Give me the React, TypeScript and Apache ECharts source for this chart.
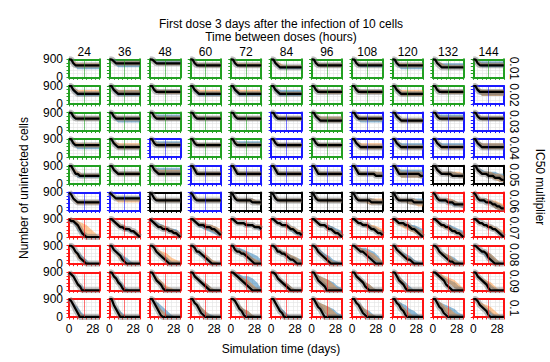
import React, { useEffect, useRef } from "react";
import * as echarts from "echarts";

// ---------- labels ----------
const COL_LABELS = ["24", "36", "48", "60", "72", "84", "96", "108", "120", "132", "144"];
const ROW_LABELS = ["0.01", "0.02", "0.03", "0.04", "0.05", "0.06", "0.07", "0.08", "0.09", "0.1"];
const TITLE_1 = "First dose 3 days after the infection of 10 cells";
const TITLE_2 = "Time between doses (hours)";
const X_TITLE = "Simulation time (days)";
const Y_TITLE = "Number of uninfected cells";
const R_TITLE = "IC50 multiplier";

// ---------- sampling times (days) ----------
const T_LINE = [0, 2, 4, 6, 8, 10, 12, 14, 16, 18, 20, 22, 24, 26, 28];
const T_BAND = [0, 4, 8, 12, 16, 20, 24, 28];

// panel frame colour per cell: G green, B blue, K black, R red
const FRAME = [
  "GGGGGGGGGGG",
  "GGGGGGGGGGB",
  "GGGGGBGBBBB",
  "GGBGGBGBBBB",
  "GGGBBBBBBKK",
  "BBKBKKKKKRR",
  "RRRRRRRRRRR",
  "RRRRRRRRRRR",
  "RRRRRRRRRRR",
  "RRRRRRRRRRR",
];

// mean number of uninfected cells (hundreds) at T_LINE
const LINE = [
  ["997666666666666", "998777777777777", "998777777777777", "997666666666666", "997666666666666", "997655555555555", "997666666666666", "997666666666666", "997666666666666", "997655555555555", "997666666666666"],
  ["997655555555555", "997655555555555", "997666666666666", "997655555555555", "997655555555555", "997655555555555", "997666666666666", "997666666666666", "997655555555555", "997666666666666", "997666666666666"],
  ["997666666666666", "997666666666666", "997666666666666", "997666666666666", "997666666666666", "997666666666666", "997655555555555", "997666666666666", "997655555555555", "997666666666666", "997666666666666"],
  ["997666666666666", "997655555555555", "997666666666666", "997666666666666", "997666666666666", "997666666666666", "997666666666666", "997655555555555", "997655555555555", "997655555555555", "997655555555555"],
  ["997554444444444", "997655555555555", "997655555555555", "997555555555555", "997555555555555", "997555555555555", "997555555555555", "997555555554444", "997555555555544", "997655555444444", "997655544433322"],
  ["986544444444444", "987666666666666", "986555555555555", "986555555555555", "986555555544444", "986555555555555", "986555555555555", "986555555444444", "986555555544444", "986555544433333", "986555444332211"],
  ["988764210000000", "998765544433210", "987655444332210", "998766655544321", "998777766665554", "998776665443221", "998766654432210", "998776665443221", "998777665443210", "998766554332210", "998776655443210"],
  ["998653210000000", "997654210000000", "998654321000000", "998665432100000", "997665543210000", "998665543221000", "998654321000000", "998766543210000", "997654322100000", "998654321100000", "998766532100000"],
  ["987532000000000", "997643100000000", "997543100000000", "997654321000000", "998765432100000", "998654321000000", "997543200000000", "997654210000000", "997543100000000", "998765321000000", "997654310000000"],
  ["986420000000000", "996420000000000", "997531000000000", "997642100000000", "998643100000000", "997532000000000", "997542000000000", "997642100000000", "997643100000000", "997542100000000", "998654310000000"],
];

// orange band (hundreds) at T_BAND
const ORANGE_HI = [
  ["98777777", "98888888", "98777777", "98777777", "98777777", "98766666", "98777777", "98777777", "98777777", "98766666", "98777777"],
  ["98777777", "98777777", "98777777", "98777777", "98777777", "98666666", "98777777", "98777777", "98777777", "98777777", "98777777"],
  ["98777777", "98777777", "98777777", "98777777", "98777777", "98777777", "98777777", "98777777", "98666666", "98777777", "98777777"],
  ["98777777", "98777777", "98777777", "98777777", "98777777", "98777777", "98777777", "98777777", "98666666", "98666666", "98777777"],
  ["98655555", "98666666", "98777777", "98666666", "98666666", "98666666", "98666666", "98666666", "98666666", "98666665", "98666554"],
  ["96555555", "97666666", "97666666", "97666666", "97666655", "97666666", "97666666", "97666666", "97666655", "97666544", "97665543"],
  ["99876420", "98765432", "98665432", "98776654", "98777666", "98766543", "98765432", "98776654", "98776543", "98765432", "98766543"],
  ["98531000", "97420000", "98765321", "98654210", "98765321", "98765431", "98643100", "98876531", "98643100", "98654210", "98765310"],
  ["97410000", "98520000", "98642100", "98643100", "98765310", "98643100", "98765310", "98643100", "98631000", "98876531", "98654200"],
  ["97310000", "97310000", "98531000", "98642000", "98643100", "97420000", "98765310", "98642100", "98642000", "98754210", "98765310"],
];
const ORANGE_LO = [
  ["97555555", "97666666", "97666666", "97555555", "97555555", "97555555", "97555555", "97666666", "97555555", "97555555", "97666666"],
  ["97555555", "97555555", "97555555", "97555555", "97555555", "97555555", "97555555", "97555555", "97444444", "97555555", "97444444"],
  ["97555555", "97555555", "97555555", "97555555", "97555555", "97555555", "97444444", "97555555", "97444444", "97555555", "97555555"],
  ["97555555", "97444444", "97555555", "97555555", "97555555", "97555555", "97555555", "97444444", "97444444", "97444444", "97444444"],
  ["96444444", "97444444", "97444444", "96444444", "96444444", "97444444", "97444444", "96444444", "96333333", "96544433", "96543211"],
  ["95333333", "96444444", "96444444", "96444444", "96444433", "96444444", "96444444", "96443333", "96443322", "96544322", "96543100"],
  ["98420000", "97544310", "97543210", "97654320", "97666554", "97654321", "97654210", "97654321", "97543210", "97543210", "97654321"],
  ["97310000", "97310000", "97531000", "97542000", "97643100", "97643210", "97420000", "97654210", "97421000", "97431000", "97642000"],
  ["96200000", "97310000", "97310000", "97521000", "97643100", "97421000", "97420000", "97420000", "97310000", "97543100", "97421000"],
  ["96100000", "96100000", "97310000", "97420000", "97421000", "96310000", "97420000", "97420000", "97420000", "97420000", "97532000"],
];

// blue band (hundreds) at T_BAND
const BLUE_HI = [
  ["97666666", "99888888", "98888888", "98777777", "97666666", "98666666", "98777777", "98777777", "98666666", "98777777", "98888888"],
  ["98666666", "98777777", "98777777", "98666666", "98666666", "98777777", "98777777", "98777777", "98666666", "98777777", "98777777"],
  ["98777777", "98777777", "98888888", "98777777", "98777777", "98777777", "98777777", "98777777", "98666666", "98888888", "98777777"],
  ["98666666", "98666666", "98888888", "98777777", "98888888", "98777777", "98777777", "98666666", "98777777", "98777777", "98777777"],
  ["97555555", "98666666", "98888888", "98666666", "98666666", "98666666", "98666666", "98666666", "98777777", "98666655", "98766655"],
  ["96555555", "97777777", "97666666", "97666666", "97666655", "97666666", "97666666", "97666655", "97666666", "97665544", "97665432"],
  ["98531000", "98665321", "98765442", "98776543", "98777665", "98765432", "98766543", "98776543", "98776654", "98766543", "98765432"],
  ["98642000", "98643100", "98643100", "98643100", "98876542", "98765432", "98754210", "98887641", "98654210", "98654310", "98765310"],
  ["97420000", "98631000", "98531000", "98643100", "98877641", "98643100", "98765421", "98643100", "98642000", "98765421", "98643100"],
  ["97520000", "97420000", "98753100", "98642100", "98643100", "97531000", "98765421", "98643100", "98764310", "98765421", "98643100"],
];
const BLUE_LO = [
  ["96444444", "97555555", "97666666", "97555555", "96555555", "96444444", "97555555", "97555555", "96444444", "97555555", "97555555"],
  ["96444444", "96444444", "97555555", "96444444", "96444444", "96444444", "97555555", "97555555", "96444444", "97555555", "96444444"],
  ["96555555", "96444444", "97555555", "97555555", "97555555", "96555555", "96444444", "96444444", "96444444", "97555555", "97555555"],
  ["96444444", "96444444", "97555555", "97555555", "97555555", "97555555", "97555555", "96444444", "96444444", "97555555", "96444444"],
  ["96333333", "97444444", "97444444", "96444444", "96444444", "96444444", "97444444", "96444444", "96333333", "96544433", "96543322"],
  ["95444444", "96555555", "96444444", "96444444", "96444433", "96444444", "96444444", "96444433", "96443333", "96443221", "96443100"],
  ["97310000", "97543210", "97543210", "97543210", "97665543", "97654210", "97654321", "97654321", "97654320", "97654321", "97654310"],
  ["97410000", "97421000", "97421000", "97431000", "97643100", "97543100", "97531000", "97654100", "97531000", "97431000", "97531000"],
  ["96200000", "97310000", "97310000", "97420000", "97643100", "97421000", "97420000", "97420000", "97310000", "97643100", "97421000"],
  ["96200000", "96200000", "97420000", "97420000", "97420000", "96310000", "97420000", "97420000", "97420000", "97420000", "97531000"],
];

const FRAME_COLORS: Record<string, string> = {
  G: "#22a022",
  B: "#1a1aff",
  K: "#000000",
  R: "#ff1414",
};

const FONT = "'Liberation Sans', Arial, Helvetica, sans-serif";
const FS = 12;

const decode = (s: string) => s.split("").map((ch) => Number(ch) * 100);

function buildOption() {
  const PX0 = 69;
  const PY0 = 59.3;
  const DX = 40.43;
  const DY = 26.63;
  const PW = 30.5;
  const PH = 18;

  const grid: any[] = [];
  const xAxis: any[] = [];
  const yAxis: any[] = [];
  const series: any[] = [];
  const graphic: any[] = [];

  for (let r = 0; r < ROW_LABELS.length; r++) {
    for (let c = 0; c < COL_LABELS.length; c++) {
      const i = r * COL_LABELS.length + c;
      const col = FRAME_COLORS[FRAME[r][c]];
      grid.push({
        left: PX0 + c * DX,
        top: PY0 + r * DY,
        width: PW,
        height: PH,
        show: false,
        containLabel: false,
      });
      const frameLine = { show: true, onZero: false, lineStyle: { color: col, width: 2 } };
      xAxis.push({
        type: "value",
        gridIndex: i,
        min: 0,
        max: 28,
        interval: 4,
        axisLine: frameLine,
        axisTick: { show: true, length: 2.5, inside: false, lineStyle: { color: col, width: 1 } },
        splitLine: { show: true, showMinLine: false, showMaxLine: false, lineStyle: { color: "#e2e2e2", width: 0.6 } },
        axisLabel: {
          show: r === ROW_LABELS.length - 1,
          formatter: (v: number) => (v === 0 || v === 28 ? String(v) : ""),
          fontSize: FS,
          fontFamily: FONT,
          color: "#000",
          margin: 6,
          showMinLabel: true,
          showMaxLabel: true,
          alignMaxLabel: "right",
        },
      });
      // top edge of the frame
      xAxis.push({
        type: "value",
        gridIndex: i,
        position: "top",
        min: 0,
        max: 28,
        axisLine: frameLine,
        axisTick: { show: false },
        splitLine: { show: false },
        axisLabel: { show: false },
      });
      yAxis.push({
        type: "value",
        gridIndex: i,
        min: 0,
        max: 900,
        interval: 180,
        axisLine: frameLine,
        axisTick: { show: true, length: 2.5, inside: false, lineStyle: { color: col, width: 1 } },
        splitLine: { show: true, showMinLine: false, showMaxLine: false, lineStyle: { color: "#e2e2e2", width: 0.6 } },
        axisLabel: {
          show: c === 0,
          formatter: (v: number) => (v === 0 || v === 900 ? String(v) : ""),
          fontSize: FS,
          fontFamily: FONT,
          color: "#000",
          margin: 6,
          showMinLabel: true,
          showMaxLabel: true,
        },
      });
      // right edge of the frame
      yAxis.push({
        type: "value",
        gridIndex: i,
        position: "right",
        min: 0,
        max: 900,
        axisLine: frameLine,
        axisTick: { show: false },
        splitLine: { show: false },
        axisLabel: { show: false },
      });
      const xi = 2 * i;
      const yi = 2 * i;

      const bands = [
        { lo: decode(BLUE_LO[r][c]), hi: decode(BLUE_HI[r][c]), fill: "rgba(31,119,180,0.5)" },
        { lo: decode(ORANGE_LO[r][c]), hi: decode(ORANGE_HI[r][c]), fill: "rgba(255,127,14,0.42)" },
      ];
      bands.forEach((b) => {
        series.push({
          type: "custom",
          xAxisIndex: xi,
          yAxisIndex: yi,
          silent: true,
          clip: true,
          z: 1,
          data: [[0, 0]],
          renderItem: (_p: any, api: any) => {
            const pts: number[][] = [];
            for (let k = 0; k < T_BAND.length; k++) pts.push(api.coord([T_BAND[k], b.hi[k]]));
            for (let k = T_BAND.length - 1; k >= 0; k--) pts.push(api.coord([T_BAND[k], b.lo[k]]));
            return { type: "polygon", shape: { points: pts }, style: { fill: b.fill } };
          },
        });
      });

      const ys = decode(LINE[r][c]);
      const lineData = T_LINE.map((t, k) => [t, ys[k]]);
      // grey halo (spread of the mean)
      series.push({
        type: "line",
        xAxisIndex: xi,
        yAxisIndex: yi,
        symbol: "none",
        silent: true,
        z: 2,
        data: lineData,
        lineStyle: { color: "rgba(110,110,110,0.45)", width: 6 },
      });
      series.push({
        type: "line",
        xAxisIndex: xi,
        yAxisIndex: yi,
        symbol: "none",
        silent: true,
        z: 3,
        data: lineData,
        lineStyle: { color: "#000", width: 2.2 },
        markLine: {
          silent: true,
          symbol: "none",
          label: { show: false },
          lineStyle: { color: col, width: 1, type: "solid", opacity: 0.6 },
          data: [{ xAxis: 14 }],
        },
      });
    }
    graphic.push({
      type: "text",
      x: 514,
      y: PY0 + r * DY + PH / 2,
      rotation: -Math.PI / 2,
      style: {
        text: ROW_LABELS[r],
        fill: "#000",
        font: `${FS}px ${FONT}`,
        textAlign: "center",
        textVerticalAlign: "middle",
        align: "center",
        verticalAlign: "middle",
      },
    });
  }

  COL_LABELS.forEach((lab, c) => {
    graphic.push({
      type: "text",
      x: PX0 + c * DX + PW / 2,
      y: 51.7,
      style: {
        text: lab,
        fill: "#000",
        font: `${FS}px ${FONT}`,
        textAlign: "center",
        textVerticalAlign: "middle",
        align: "center",
        verticalAlign: "middle",
      },
    });
  });

  const addText = (text: string, x: number, y: number, rot = 0) => {
    graphic.push({
      type: "text",
      x,
      y,
      rotation: rot,
      style: {
        text,
        fill: "#000",
        font: `${FS}px ${FONT}`,
        textAlign: "center",
        textVerticalAlign: "middle",
        align: "center",
        verticalAlign: "middle",
      },
    });
  };
  addText(TITLE_1, 281, 24);
  addText(TITLE_2, 281, 36.7);
  addText(X_TITLE, 281, 349);
  addText(Y_TITLE, 24, 188, Math.PI / 2);
  addText(R_TITLE, 540, 187, -Math.PI / 2);

  return {
    animation: false,
    backgroundColor: "#ffffff",
    grid,
    xAxis,
    yAxis,
    series,
    graphic,
  };
}

export default function App() {
  const ref = useRef<HTMLDivElement>(null);
  useEffect(() => {
    if (!ref.current) return;
    const chart = echarts.init(ref.current, undefined, { renderer: "svg" });
    chart.setOption(buildOption() as any);
    return () => chart.dispose();
  }, []);
  return (
    <div
      ref={ref}
      style={{ position: "absolute", left: 0, top: 0, width: 550, height: 362 }}
    />
  );
}
